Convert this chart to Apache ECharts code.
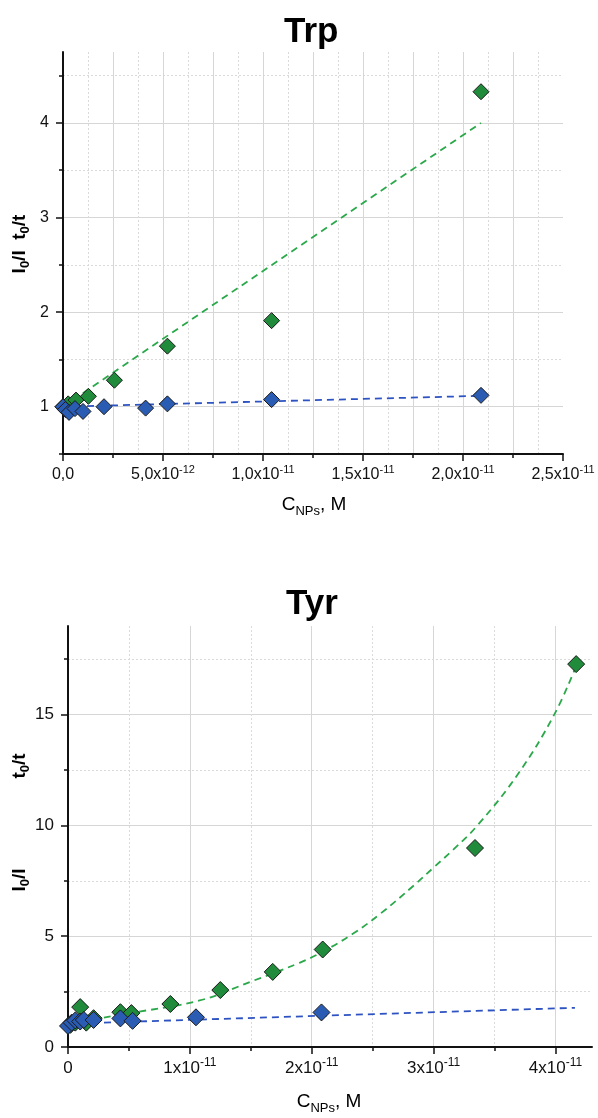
<!DOCTYPE html>
<html>
<head>
<meta charset="utf-8">
<script src="https://cdn.jsdelivr.net/npm/echarts@6/dist/echarts.min.js"></script>
<style>
  html, body { margin: 0; padding: 0; background: #ffffff; }
  #chart { width: 598px; height: 1118px; }
</style>
</head>
<body>
<div id="chart"></div>
<script>
// ---- Trp panel: measured ratios vs nanoparticle concentration (M)
const trpIntensityX = [0, 0.26e-12, 0.65e-12, 1.27e-12, 2.57e-12, 5.22e-12, 1.043e-11, 2.09e-11];
const trpIntensityY = [1.0, 1.03, 1.07, 1.11, 1.28, 1.64, 1.91, 4.33];
const trpLifetimeX = [0, 0.12e-12, 0.3e-12, 0.6e-12, 1.0e-12, 2.05e-12, 4.13e-12, 5.22e-12, 1.043e-11, 2.09e-11];
const trpLifetimeY = [1.0, 0.97, 0.94, 0.98, 0.95, 1.0, 0.985, 1.03, 1.075, 1.12];
// fitted trend lines (end points)
const trpIntensityFitX = [0, 2.09e-11];
const trpIntensityFitY = [1.0, 4.0];
const trpLifetimeFitX = [0, 2.09e-11];
const trpLifetimeFitY = [1.0, 1.115];

// ---- Tyr panel
const tyrIntensityX = [0.2e-12, 0.6e-12, 1.0e-12, 1.5e-12, 2.1e-12, 4.3e-12, 5.2e-12, 8.4e-12, 1.25e-11, 1.68e-11, 2.09e-11, 3.34e-11, 4.17e-11];
const tyrIntensityY = [1.0, 1.1, 1.8, 1.1, 1.3, 1.57, 1.53, 1.94, 2.57, 3.39, 4.40, 8.98, 17.28];
const tyrLifetimeX = [0, 0.3e-12, 0.6e-12, 1.0e-12, 1.3e-12, 2.1e-12, 4.3e-12, 5.3e-12, 1.05e-11, 2.08e-11];
const tyrLifetimeY = [0.95, 1.1, 1.2, 1.15, 1.22, 1.22, 1.29, 1.18, 1.34, 1.56];
const tyrIntensityFitX = [0, 0.26e-11, 0.5e-11, 1.08e-11, 1.5e-11, 1.9e-11, 2.09e-11, 2.34e-11, 2.56e-11, 2.84e-11, 3.0e-11, 3.16e-11, 3.36e-11, 3.69e-11, 3.99e-11, 4.17e-11];
const tyrIntensityFitY = [1.1, 1.3, 1.52, 2.1, 2.95, 3.8, 4.3, 5.12, 6.0, 7.3, 8.1, 8.9, 10.0, 12.3, 15.0, 17.2];
const tyrLifetimeFitX = [0, 4.16e-11];
const tyrLifetimeFitY = [1.05, 1.77];

// ---- axis ticks and labels
const trpXMajor = [0, 5e-12, 1e-11, 1.5e-11, 2e-11, 2.5e-11];
const trpXLabelMantissa = ['0,0', '5,0x10', '1,0x10', '1,5x10', '2,0x10', '2,5x10'];
const trpXLabelExponent = ['', '-12', '-11', '-11', '-11', '-11'];
const trpXGrid = [2.5e-12, 5e-12, 7.5e-12, 1e-11, 1.25e-11, 1.5e-11, 1.75e-11, 2e-11, 2.25e-11];
const trpXFine = [1.25e-12, 3.75e-12, 6.25e-12, 8.75e-12, 1.125e-11, 1.375e-11, 1.625e-11, 1.875e-11, 2.125e-11, 2.375e-11];
const trpYMajor = [1, 2, 3, 4];
const trpYLabels = ['1', '2', '3', '4'];
const trpYMinor = [0.5, 1.5, 2.5, 3.5, 4.5];

const tyrXMajor = [0, 1e-11, 2e-11, 3e-11, 4e-11];
const tyrXLabelMantissa = ['0', '1x10', '2x10', '3x10', '4x10'];
const tyrXLabelExponent = ['', '-11', '-11', '-11', '-11'];
const tyrXMinor = [0.5e-11, 1.5e-11, 2.5e-11, 3.5e-11];
const tyrYMajor = [0, 5, 10, 15];
const tyrYLabels = ['0', '5', '10', '15'];
const tyrYMinor = [2.5, 7.5, 12.5, 17.5];

const FONT = '"Liberation Sans", Arial, sans-serif';
const GREEN_FILL = '#1f8b3b';
const BLUE_FILL = '#2b5cb3';
const GREEN_LINE = '#2aa84a';
const BLUE_LINE = '#2d52c2';
const GREEN_TEXT = '#1f9a3c';
const BLUE_TEXT = '#2a479e';
const GRID_SOLID = '#d6d6d6';
const GRID_DOT = '#dadada';

function pairs(xs, ys) { return xs.map((x, i) => [x, ys[i]]); }

function labelLookup(ticks, mant, expo) {
  return function (v) {
    let idx = -1;
    ticks.forEach((t, i) => {
      if (Math.abs(t - v) <= Math.abs(t) * 1e-6 + 1e-30) idx = i;
    });
    if (idx < 0) return '';
    return expo[idx] ? '{a|' + mant[idx] + '}{s|' + expo[idx] + '}' : '{a|' + mant[idx] + '}';
  };
}

function labelRich(size) {
  return {
    a: { fontSize: size, fontFamily: FONT, color: '#111', lineHeight: size + 6 },
    s: { fontSize: Math.round(size * 0.68), fontFamily: FONT, color: '#111', lineHeight: Math.round(size * 0.75), verticalAlign: 'top' }
  };
}

const axisLineStyle = { show: true, lineStyle: { color: '#111', width: 2 } };

// labelled major axis
function majorX(gridIndex, min, max, ticks, mant, expo, size, margin, split) {
  return {
    type: 'value', gridIndex, min, max, position: 'bottom',
    axisLine: axisLineStyle,
    axisTick: { show: true, length: 7, customValues: ticks, lineStyle: { color: '#111', width: 1.5 } },
    axisLabel: { show: true, customValues: ticks, margin, formatter: labelLookup(ticks, mant, expo), rich: labelRich(size) },
    splitLine: split ? { show: true, lineStyle: { color: GRID_SOLID, width: 1, type: 'solid' } } : { show: false }
  };
}
function plainX(gridIndex, min, max, ticks, tickLen, lineType, color) {
  return {
    type: 'value', gridIndex, min, max, position: 'bottom',
    axisLine: { show: false },
    axisTick: { show: tickLen > 0, length: tickLen, customValues: ticks, lineStyle: { color: '#111', width: 1.5 } },
    axisLabel: { show: false },
    splitLine: { show: true, lineStyle: { color, width: 1, type: lineType } }
  };
}
function majorY(gridIndex, min, max, ticks, labels, size, margin) {
  return {
    type: 'value', gridIndex, min, max, position: 'left',
    axisLine: axisLineStyle,
    axisTick: { show: true, length: 7, customValues: ticks, lineStyle: { color: '#111', width: 1.5 } },
    axisLabel: {
      show: true, customValues: ticks, margin, fontSize: size, fontFamily: FONT, color: '#111',
      formatter: labelLookup(ticks, labels, ticks.map(() => '')), rich: labelRich(size)
    },
    splitLine: { show: true, lineStyle: { color: GRID_SOLID, width: 1, type: 'solid' } }
  };
}
function minorY(gridIndex, min, max, ticks) {
  return {
    type: 'value', gridIndex, min, max, position: 'left',
    axisLine: { show: false },
    axisTick: { show: true, length: 4, customValues: ticks, lineStyle: { color: '#111', width: 1.5 } },
    axisLabel: { show: false },
    splitLine: { show: true, lineStyle: { color: GRID_DOT, width: 1, type: [2, 2] } }
  };
}

function scatter(name, xAxisIndex, yAxisIndex, xs, ys, fill, size) {
  return {
    name, type: 'scatter', xAxisIndex, yAxisIndex, data: pairs(xs, ys),
    symbol: 'diamond', symbolSize: size,
    itemStyle: { color: fill, borderColor: '#1a1a1a', borderWidth: 1, opacity: 1 },
    z: 5
  };
}
function fit(name, xAxisIndex, yAxisIndex, xs, ys, color, smooth) {
  return {
    name, type: 'line', xAxisIndex, yAxisIndex, data: pairs(xs, ys),
    showSymbol: false, symbol: 'none', smooth: smooth || false,
    lineStyle: { color, width: 1.8, type: [7, 5] },
    z: 3
  };
}

function subText(parts) {
  // parts: [text, style] where style is a main or a subscript token
  return parts.map(p => '{' + p[1] + '|' + p[0] + '}').join('');
}

const axisNameRich = {
  g: { fontSize: 19, fontWeight: 'bold', fontFamily: FONT, color: GREEN_TEXT, lineHeight: 24 },
  gs: { fontSize: 13, fontWeight: 'bold', fontFamily: FONT, color: GREEN_TEXT, lineHeight: 12, verticalAlign: 'bottom' },
  b: { fontSize: 19, fontWeight: 'bold', fontFamily: FONT, color: BLUE_TEXT, lineHeight: 24 },
  bs: { fontSize: 13, fontWeight: 'bold', fontFamily: FONT, color: BLUE_TEXT, lineHeight: 12, verticalAlign: 'bottom' },
  sp: { fontSize: 19, fontFamily: FONT, lineHeight: 24 }
};
const xNameRich = {
  m: { fontSize: 19, fontFamily: FONT, color: '#111', lineHeight: 26 },
  sub: { fontSize: 13, fontFamily: FONT, color: '#111', lineHeight: 13, verticalAlign: 'bottom' }
};

const intensityName = subText([['I', 'g'], ['0', 'gs'], ['/I', 'g']]);
const lifetimeName = subText([['t', 'b'], ['0', 'bs'], ['/t', 'b']]);
const concName = subText([['C', 'm'], ['NPs', 'sub'], [', M', 'm']]);

function rotatedText(x, y, text, rich) {
  return {
    type: 'text', x, y, rotation: Math.PI / 2,
    style: { text, rich, align: 'center', verticalAlign: 'middle' }
  };
}
function flatText(x, y, text, rich) {
  return { type: 'text', x, y, style: { text, rich, align: 'center', verticalAlign: 'middle' } };
}

const chart = echarts.init(document.getElementById('chart'), null, { renderer: 'canvas' });

chart.setOption({
  backgroundColor: '#ffffff',
  animation: false,
  title: [
    { text: 'Trp', left: 279, top: 10, textStyle: { fontSize: 35, fontWeight: 'bold', fontFamily: FONT, color: '#000' } },
    { text: 'Tyr', left: 281, top: 582, textStyle: { fontSize: 35, fontWeight: 'bold', fontFamily: FONT, color: '#000' } }
  ],
  grid: [
    { left: 63, top: 52, width: 500, height: 402, containLabel: false },
    { left: 68, top: 626, width: 524, height: 421, containLabel: false }
  ],
  xAxis: [
    majorX(0, 0, 2.5e-11, trpXMajor, trpXLabelMantissa, trpXLabelExponent, 16, 10, false),
    plainX(0, 0, 2.5e-11, trpXGrid, 4, 'solid', GRID_SOLID),
    plainX(0, 0, 2.5e-11, trpXFine, 0, [2, 2], GRID_DOT),
    majorX(1, 0, 4.3e-11, tyrXMajor, tyrXLabelMantissa, tyrXLabelExponent, 17, 10, true),
    plainX(1, 0, 4.3e-11, tyrXMinor, 4, [2, 2], GRID_DOT)
  ],
  yAxis: [
    majorY(0, 0.5, 4.75, trpYMajor, trpYLabels, 16, 14),
    minorY(0, 0.5, 4.75, trpYMinor),
    majorY(1, 0, 19, tyrYMajor, tyrYLabels, 17, 14),
    minorY(1, 0, 19, tyrYMinor)
  ],
  graphic: [
    rotatedText(20, 244, intensityName + '{sp|  }' + lifetimeName, axisNameRich),
    flatText(314, 505, concName, xNameRich),
    rotatedText(20, 766, lifetimeName, axisNameRich),
    rotatedText(20, 880, intensityName, axisNameRich),
    flatText(329, 1102, concName, xNameRich)
  ],
  series: [
    fit('I0/I fit (Trp)', 0, 0, trpIntensityFitX, trpIntensityFitY, GREEN_LINE),
    fit('t0/t fit (Trp)', 0, 0, trpLifetimeFitX, trpLifetimeFitY, BLUE_LINE),
    scatter('I0/I (Trp)', 0, 0, trpIntensityX, trpIntensityY, GREEN_FILL, 16),
    scatter('t0/t (Trp)', 0, 0, trpLifetimeX, trpLifetimeY, BLUE_FILL, 16),
    fit('I0/I fit (Tyr)', 3, 2, tyrIntensityFitX, tyrIntensityFitY, GREEN_LINE, 0.4),
    fit('t0/t fit (Tyr)', 3, 2, tyrLifetimeFitX, tyrLifetimeFitY, BLUE_LINE),
    scatter('I0/I (Tyr)', 3, 2, tyrIntensityX, tyrIntensityY, GREEN_FILL, 17),
    scatter('t0/t (Tyr)', 3, 2, tyrLifetimeX, tyrLifetimeY, BLUE_FILL, 17)
  ]
});
</script>
</body>
</html>
